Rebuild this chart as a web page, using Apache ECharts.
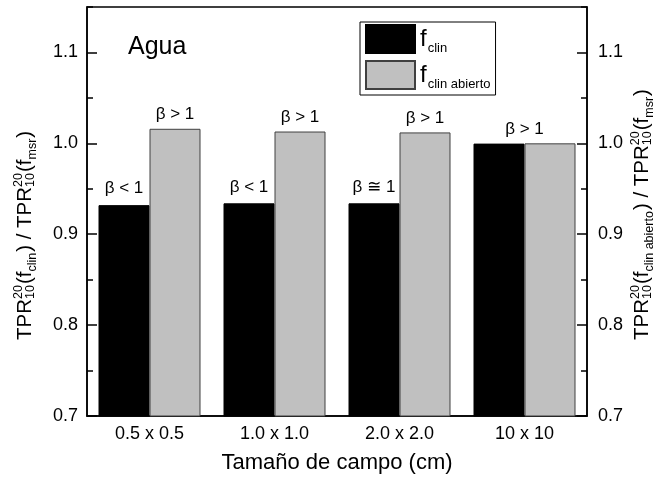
<!DOCTYPE html>
<html>
<head>
<meta charset="utf-8">
<script src="https://cdn.jsdelivr.net/npm/echarts@6/dist/echarts.min.js"></script>
<style>
  html, body { margin: 0; padding: 0; background: #fff; }
  #chart { width: 658px; height: 479px; }
</style>
</head>
<body>
<div id="chart"></div>
<script>
// data
const categories = ['0.5 x 0.5', '1.0 x 1.0', '2.0 x 2.0', '10 x 10'];
const fClin = [0.932, 0.934, 0.934, 0.9997];
const fClinAbierto = [1.016, 1.013, 1.012, 1.0];
const fClinLabels = ['β < 1', 'β < 1', 'β ≅ 1', ''];
const fClinAbiertoLabels = ['β > 1', 'β > 1', 'β > 1', 'β > 1'];

const FONT = '"Liberation Sans", Arial, "DejaVu Sans", sans-serif';

// axis titles with stacked super/subscripts
const leftTitle = [
  { t: 'TPR' }, { sup: '20', sub: '10' }, { t: '(f' }, { low: 'clin' },
  { t: ') / TPR' }, { sup: '20', sub: '10' }, { t: '(f' }, { low: 'msr' }, { t: ')' }
];
const rightTitle = [
  { t: 'TPR' }, { sup: '20', sub: '10' }, { t: '(f' }, { low: 'clin abierto' },
  { t: ') / TPR' }, { sup: '20', sub: '10' }, { t: '(f' }, { low: 'msr' }, { t: ')' }
];

const ctx = document.createElement('canvas').getContext('2d');
function tw(t, size) {
  ctx.font = size + 'px ' + FONT;
  return ctx.measureText(t).width;
}

function layoutTitle(tokens, B) {
  const S = B * 0.61;
  let x = 0;
  const out = [];
  const put = (t, size, base) => {
    out.push({ t: t, size: size, x: x, y: base - 0.35 * size });
  };
  tokens.forEach(k => {
    if (k.t) {
      put(k.t, B, 0);
      x += tw(k.t, B);
    } else if (k.sup) {
      put(k.sup, S, -0.5 * B);
      put(k.sub, S, 0.1 * B);
      x += Math.max(tw(k.sup, S), tw(k.sub, S)) + 1;
    } else if (k.low) {
      put(k.low, S, 0.22 * B);
      x += tw(k.low, S) + 1;
    }
  });
  return out;
}

// rotated title, reading bottom to top
function buildTitle(tokens, topX, startY, B) {
  return {
    type: 'group',
    x: topX + 0.716 * B,
    y: startY,
    rotation: Math.PI / 2,
    children: layoutTitle(tokens, B).map(it => ({
      type: 'text',
      x: it.x,
      y: it.y,
      style: {
        text: it.t,
        fill: '#000',
        font: it.size.toFixed(1) + 'px ' + FONT,
        verticalAlign: 'middle',
        align: 'left'
      }
    }))
  };
}

const chart = echarts.init(document.getElementById('chart'));

const axisBase = {
  type: 'value',
  min: 0.7,
  max: 1.15,
  splitLine: { show: false }
};

const majorAxis = pos => Object.assign({}, axisBase, {
  position: pos,
  interval: 0.1,
  axisLine: { show: true, lineStyle: { color: '#000', width: 1.5 } },
  axisTick: { show: true, inside: true, length: 10, lineStyle: { color: '#000', width: 1.5 } },
  axisLabel: {
    margin: pos === 'left' ? 9 : 11,
    fontSize: 18,
    color: '#000',
    fontFamily: FONT,
    showMaxLabel: false,
    formatter: v => v.toFixed(1)
  }
});

const minorAxis = pos => Object.assign({}, axisBase, {
  position: pos,
  interval: 0.05,
  axisLine: { show: false },
  axisTick: { show: true, inside: true, length: 6, lineStyle: { color: '#000', width: 1.5 } },
  axisLabel: { show: false }
});

chart.setOption({
  animation: false,
  backgroundColor: '#fff',
  grid: {
    left: 87, right: 71, top: 7, bottom: 61,
    show: true, borderColor: '#000', borderWidth: 1.5, backgroundColor: 'transparent'
  },
  title: {
    text: 'Agua',
    left: 123,
    top: 30,
    textStyle: { fontSize: 25, fontWeight: 'normal', color: '#000', fontFamily: FONT }
  },
  legend: {
    orient: 'vertical',
    left: 360,
    top: 22,
    itemWidth: 49,
    itemHeight: 28,
    itemGap: 5,
    padding: [2, 5, 4, 5],
    borderColor: '#000',
    borderWidth: 1,
    icon: 'rect',
    formatter: n => n === 'fclin' ? '{f|f}{s|clin}' : '{f|f}{s|clin abierto}',
    textStyle: {
      fontFamily: FONT,
      color: '#000',
      rich: {
        f: { fontSize: 24, lineHeight: 28, verticalAlign: 'middle', fontFamily: FONT, color: '#000' },
        s: { fontSize: 13, lineHeight: 28, verticalAlign: 'bottom', fontFamily: FONT, color: '#000', padding: [0, 0, -2, 1] }
      }
    },
    data: ['fclin', 'fclin abierto']
  },
  xAxis: {
    type: 'category',
    data: categories,
    axisLine: { lineStyle: { color: '#000', width: 1.5 } },
    axisTick: { inside: true, length: 5, lineStyle: { color: '#000', width: 1.5 } },
    axisLabel: { margin: 9, fontSize: 18, color: '#000', fontFamily: FONT },
    name: 'Tamaño de campo (cm)',
    nameLocation: 'middle',
    nameGap: 36,
    nameTextStyle: { fontSize: 22, color: '#000', fontFamily: FONT }
  },
  yAxis: [majorAxis('left'), majorAxis('right'), minorAxis('left'), minorAxis('right')],
  graphic: [
    buildTitle(leftTitle, 18, 340, 20.5),
    buildTitle(rightTitle, 635, 340, 20.5)
  ],
  series: [
    {
      name: 'fclin',
      type: 'bar',
      barWidth: 51,
      barGap: '0%',
      itemStyle: { color: '#000', borderColor: '#000', borderWidth: 1 },
      label: { show: true, position: 'top', distance: 8, fontSize: 17, color: '#000', fontFamily: FONT },
      data: fClin.map((v, i) => ({
        value: v,
        label: fClinLabels[i] ? { formatter: fClinLabels[i] } : { show: false }
      }))
    },
    {
      name: 'fclin abierto',
      type: 'bar',
      barWidth: 51,
      barGap: '0%',
      itemStyle: { color: '#c0c0c0', borderColor: '#404040', borderWidth: 1 },
      label: { show: true, position: 'top', distance: 6, fontSize: 17, color: '#000', fontFamily: FONT },
      data: fClinAbierto.map((v, i) => ({
        value: v,
        label: i === 3
          ? { formatter: fClinAbiertoLabels[i], offset: [-25.5, 0] }
          : { formatter: fClinAbiertoLabels[i] }
      }))
    }
  ]
});
</script>
</body>
</html>
